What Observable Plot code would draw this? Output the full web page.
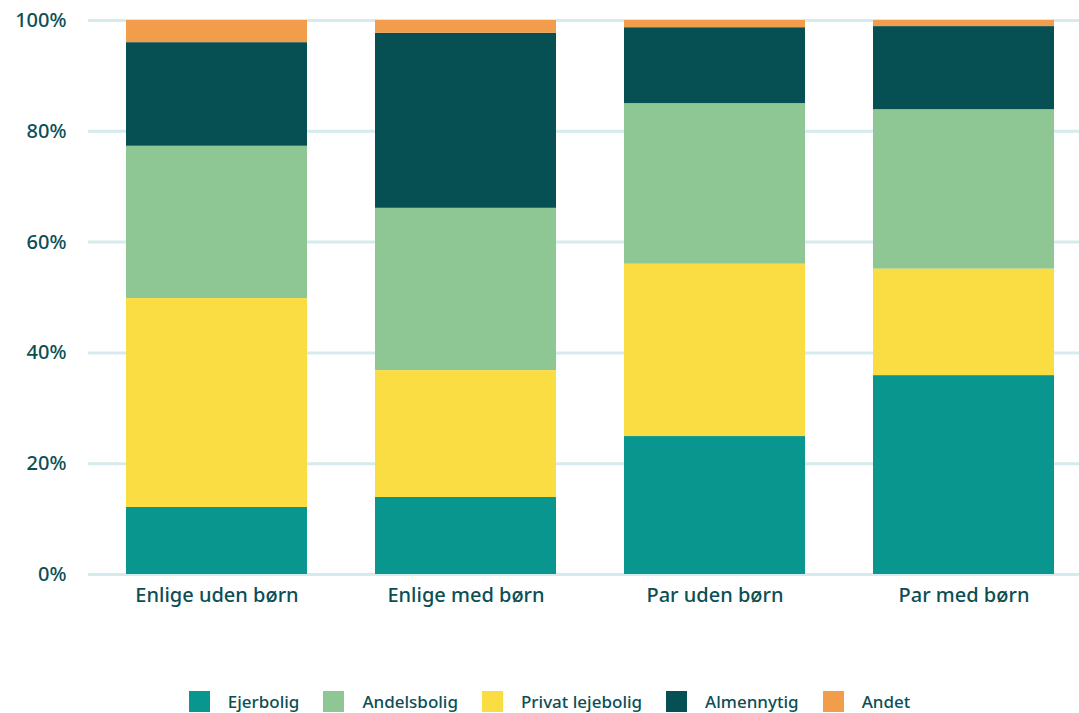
<!DOCTYPE html>
<html>
<head>
<meta charset="utf-8">
<script src="https://cdn.jsdelivr.net/npm/d3@7"></script>
<script src="https://cdn.jsdelivr.net/npm/@observablehq/plot@0.6"></script>
<style>
  body { margin: 0; background: #fff; font-family: "Noto Sans", sans-serif; }
  #chart svg { display: block; }
  .legend { display: flex; justify-content: center; align-items: center; padding-left: 20px; margin-top: 10px; font-size: 17px; font-weight: 500; color: #0b4f55; }
  .legend .item { display: flex; align-items: center; margin: 0 12px; }
  .legend .sw { width: 21px; height: 21px; margin-right: 18px; }
</style>
</head>
<body>
<div id="chart"></div>
<script>
const categories = ["Enlige uden børn", "Enlige med børn", "Par uden børn", "Par med børn"];
const seriesNames = ["Ejerbolig", "Andelsbolig", "Privat lejebolig", "Almennytig", "Andet"];
const stackOrder = ["Ejerbolig", "Privat lejebolig", "Andelsbolig", "Almennytig", "Andet"];
const colors = ["#08968e", "#8ec793", "#f9dd43", "#064f52", "#f29d4b"];
const ejerbolig = [12.1, 13.9, 24.9, 35.9];
const andelsbolig = [27.5, 29.3, 29.0, 28.8];
const privatLejebolig = [37.7, 22.9, 31.1, 19.2];
const almennytig = [18.7, 31.6, 13.7, 15.0];
const andet = [4.0, 2.3, 1.3, 1.1];
const yTicks = [0, 20, 40, 60, 80, 100];

const seriesValues = [ejerbolig, andelsbolig, privatLejebolig, almennytig, andet];
const data = [];
seriesNames.forEach((s, i) => categories.forEach((c, j) => data.push({category: c, series: s, value: seriesValues[i][j]})));

const textColor = "#0b4f55";
const plot = Plot.plot({
  width: 1079,
  height: 680,
  marginLeft: 88,
  marginRight: 0,
  marginTop: 20,
  marginBottom: 106,
  style: {fontFamily: "Noto Sans, sans-serif", color: textColor, background: "#fff"},
  x: {domain: categories, range: [56, 1123], padding: 0.275, label: null},
  y: {domain: [0, 100], label: null},
  color: {domain: seriesNames, range: colors},
  marks: [
    Plot.ruleY(yTicks, {stroke: "#d5ebed", strokeWidth: 3}),
    Plot.barY(data, Plot.stackY({x: "category", y: "value", fill: "series", order: stackOrder})),
    Plot.axisY(yTicks, {tickSize: 0, tickPadding: 22, fontSize: 20, fontWeight: 500, tickFormat: d => d + "%", fill: textColor, label: null}),
    Plot.axisX({tickSize: 0, tickPadding: 13, fontSize: 20, fontWeight: 500, fill: textColor, label: null})
  ]
});
document.getElementById("chart").appendChild(plot);

const legend = document.createElement("div");
legend.className = "legend";
seriesNames.forEach((s, i) => {
  const item = document.createElement("div");
  item.className = "item";
  const sw = document.createElement("span");
  sw.className = "sw";
  sw.style.background = colors[i];
  const t = document.createElement("span");
  t.textContent = s;
  item.appendChild(sw);
  item.appendChild(t);
  legend.appendChild(item);
});
document.body.appendChild(legend);
</script>
</body>
</html>
